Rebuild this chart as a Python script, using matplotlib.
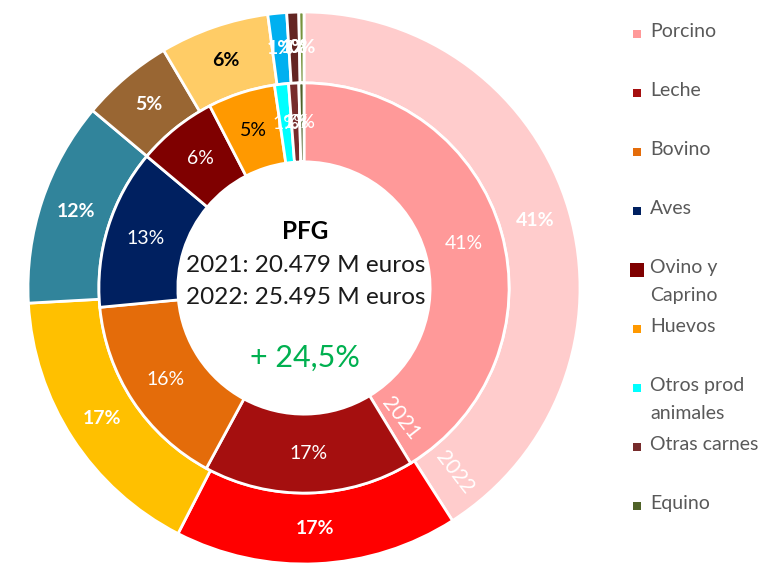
import matplotlib
matplotlib.use("Agg")
import matplotlib.pyplot as plt
from matplotlib.patches import Rectangle

plt.rcParams['font.family'] = ['Lato', 'DejaVu Sans']

# data (percent of PFG)
categories = ['Porcino', 'Leche', 'Bovino', 'Aves', 'Ovino y\nCaprino', 'Huevos',
              'Otros prod\nanimales', 'Otras carnes', 'Equino']
share_2021 = [41.3, 16.6, 15.6, 12.6, 6.3, 5.3, 1.1, 0.8, 0.4]
share_2022 = [41.0, 16.6, 16.6, 12.0, 5.4, 6.4, 1.1, 0.7, 0.3]

colors_2021 = ['#FF9999', '#A50F0F', '#E46C0A', '#002060', '#7F0000',
               '#FF9900', '#00FFFF', '#772C2C', '#4F6228']
colors_2022 = ['#FFCCCC', '#FF0000', '#FFC000', '#31849B', '#996633',
               '#FFCC66', '#00B0F0', '#632523', '#77933C']

title_lines = ['PFG', '2021: 20.479 M euros', '2022: 25.495 M euros']
growth = '+ 24,5%'

fig = plt.figure(figsize=(7.65, 5.66), dpi=100)
ax = fig.add_axes([28 / 765, 2 / 566, 552 / 765, 552 / 566])
ax.axis('off')

r_out = 1.0
r_mid = 0.743
r_in = 0.457


def pct_fmt(p):
    return f'{round(p):.0f}%'


# outer ring = 2022
w_out, t_out, a_out = ax.pie(share_2022, radius=r_out, colors=colors_2022, startangle=90,
                             counterclock=False, autopct=pct_fmt,
                             pctdistance=(r_out + r_mid) / 2 / r_out,
                             wedgeprops=dict(width=r_out - r_mid, edgecolor='white', linewidth=2))
# inner ring = 2021
w_in, t_in, a_in = ax.pie(share_2021, radius=r_mid, colors=colors_2021, startangle=90,
                          counterclock=False, autopct=pct_fmt,
                          pctdistance=(r_mid + r_in) / 2 / r_mid,
                          wedgeprops=dict(width=r_mid - r_in, edgecolor='white', linewidth=2))
ax.set_xlim(-1, 1)
ax.set_ylim(-1, 1)
ax.set_aspect('equal')

for i, t in enumerate(a_out):
    t.set_fontsize(14)
    t.set_fontweight('bold')
    t.set_color('black' if categories[i] == 'Huevos' else 'white')
for i, t in enumerate(a_in):
    t.set_fontsize(14)
    t.set_color('black' if categories[i] == 'Huevos' else 'white')

# ring year tags
ax.text(0.351, -0.471, '2021', rotation=-52, ha='center', va='center',
        color='white', fontsize=15)
ax.text(0.547, -0.667, '2022', rotation=-52, ha='center', va='center',
        color='white', fontsize=15)

# centre text
ax.text(0.005, 0.203, title_lines[0], ha='center', va='center', fontsize=17.5,
        fontweight='bold', color='black')
ax.text(0.005, 0.08, title_lines[1], ha='center', va='center', fontsize=17.5, color='#1a1a1a')
ax.text(0.005, -0.033, title_lines[2], ha='center', va='center', fontsize=17.5, color='#1a1a1a')
ax.text(0.005, -0.254, growth, ha='center', va='center', fontsize=22, color='#00B050')

# legend, drawn by hand so multi-line labels keep the same slot spacing
leg_x = 633 / 765
txt_x = 650 / 765
top = 1 - 34 / 566
step = 59.0 / 566
for i, (name, col) in enumerate(zip(categories, colors_2021)):
    y = top - i * step
    s = 14 if name.startswith('Ovino') else 8
    fig.patches.append(Rectangle((leg_x - (s - 8) / 765 / 2, y - s / 2 / 566), s / 765, s / 566,
                                 transform=fig.transFigure, facecolor=col, edgecolor='none'))
    fig.text(txt_x, y + 11 / 566, name, ha='left', va='top', fontsize=14,
             color='#595959', linespacing=1.8)

fig.savefig('out.png', dpi=100)
